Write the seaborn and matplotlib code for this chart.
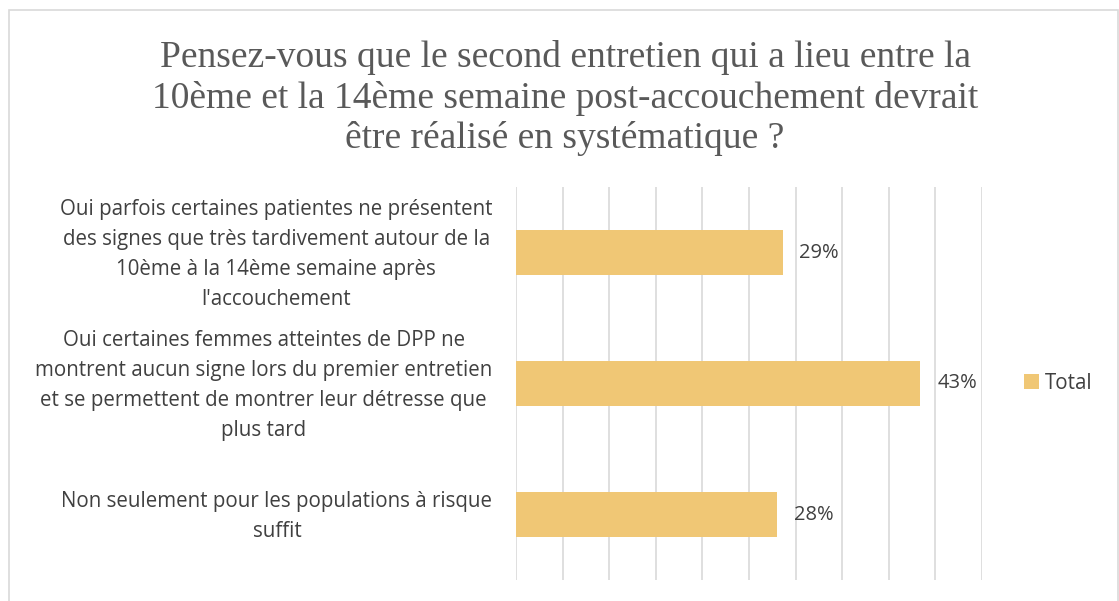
import matplotlib
matplotlib.use("Agg")
import matplotlib.pyplot as plt
import matplotlib.transforms as mtransforms
import seaborn as sns
import pandas as pd
from matplotlib.patches import Rectangle

categories = [
    "Oui parfois certaines patientes ne présentent\ndes signes que très tardivement autour de la\n10ème à la 14ème semaine après\nl'accouchement",
    "Oui certaines femmes atteintes de DPP ne\nmontrent aucun signe lors du premier entretien\net se permettent de montrer leur détresse que\nplus tard",
    "Non seulement pour les populations à risque\nsuffit",
]
values = [28.6, 43.4, 28.0]
value_labels = ["29%", "43%", "28%"]
series_name = "Total"
title = "Pensez-vous que le second entretien qui a lieu entre la\n10ème et la 14ème semaine post-accouchement devrait\nêtre réalisé en systématique ?"

df = pd.DataFrame({"cat": categories, "val": values, "series": series_name})

sns.set_theme(style="white")
plt.rcParams['font.family'] = ['Open Sans', 'DejaVu Sans']

fig = plt.figure(figsize=(11.19, 6.01), dpi=100)
ax = fig.add_axes([516/1119, 1-580/601, (982-516)/1119, (580-187)/601])

bar_color = "#F0C775"
sns.barplot(data=df, y="cat", x="val", hue="series", palette=[bar_color],
            orient="h", width=0.35, ax=ax, legend=True, saturation=1,
            linewidth=0)

ax.set_xlim(0, 50)
ax.set_xticks(range(0, 51, 5))
ax.grid(axis="x", color="#D9D9D9", linewidth=1.2)
ax.set_axisbelow(True)
ax.tick_params(axis="x", length=0, labelbottom=False)
ax.tick_params(axis="y", length=0, pad=17)
for s in ax.spines.values():
    s.set_visible(False)
ax.set_xlabel("")
ax.set_ylabel("")
shift = mtransforms.ScaledTranslation(0, 5/100, fig.dpi_scale_trans)
for lbl in ax.get_yticklabels():
    lbl.set_fontsize(14.8)
    lbl.set_color("#404040")
    lbl.set_multialignment("center")
    lbl.set_linespacing(1.55)
    lbl.set_transform(lbl.get_transform() + shift)

for i, (v, t) in enumerate(zip(values, value_labels)):
    ax.annotate(t, xy=(v, i), xytext=(12, 0), textcoords="offset points",
                va="center", ha="left", fontsize=14.5, color="#404040")

leg = ax.legend(loc="center left", bbox_to_anchor=(1.09, 0.5), frameon=False,
                fontsize=14.8, handlelength=0.75, handleheight=0.75,
                handletextpad=0.25, borderaxespad=0, borderpad=0)
for t in leg.get_texts():
    t.set_color("#404040")

fig.text(0.505, 1-40/601, title, ha="center", va="top", fontsize=27,
         family="Liberation Serif", color="#595959", linespacing=1.21)

fig.patches.append(Rectangle((9/1119, -0.01), (1118-9)/1119, 1-10/601+0.01,
                             transform=fig.transFigure, fill=False,
                             edgecolor="#D9D9D9", linewidth=1.2))

fig.savefig("out.png", dpi=100)
